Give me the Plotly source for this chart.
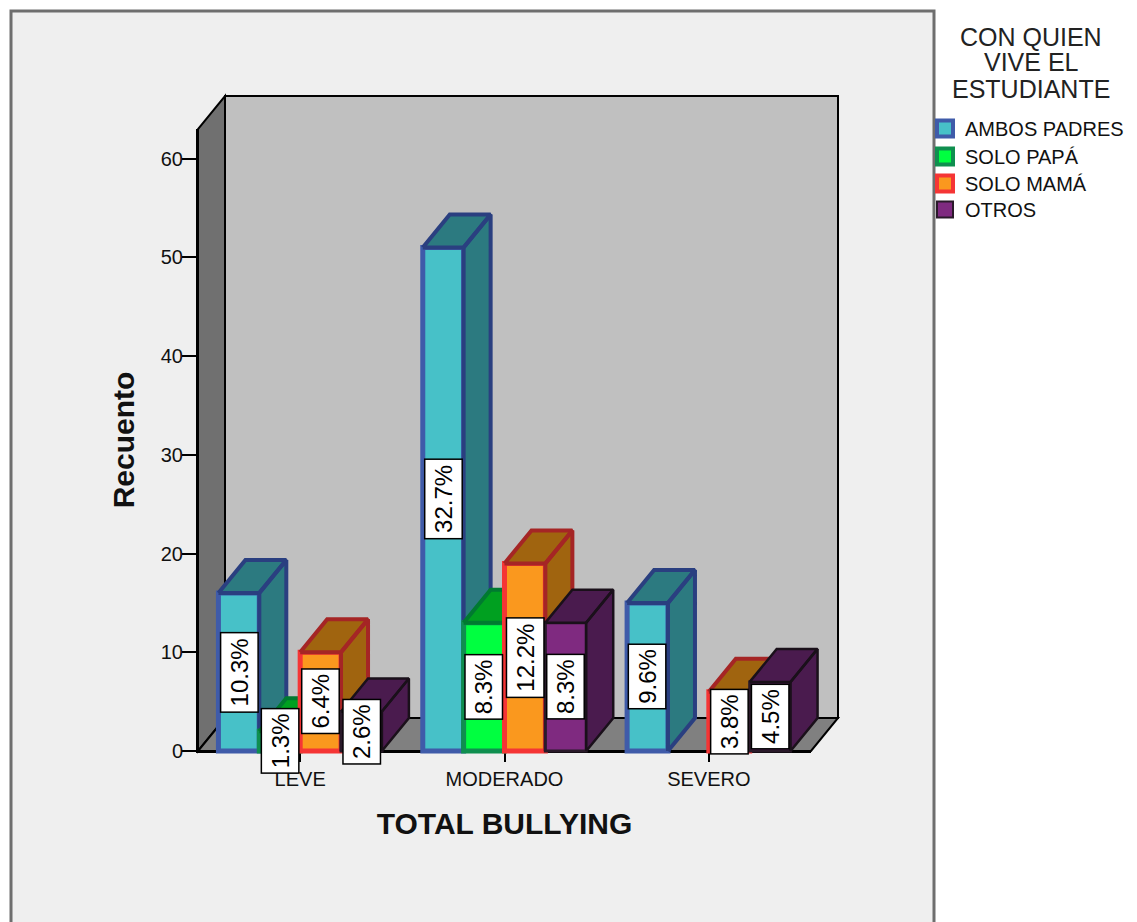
import plotly.graph_objects as go

CATEGORIES = ["LEVE", "MODERADO", "SEVERO"]
SERIES = ["AMBOS PADRES", "SOLO PAPÁ", "SOLO MAMÁ", "OTROS"]
AMBOS = [16, 51, 15]
PAPA = [2, 13, None]
MAMA = [10, 19, 6]
OTROS = [4, 13, 7]
VALUES = [AMBOS, PAPA, MAMA, OTROS]
PCT_AMBOS = ["10.3%", "32.7%", "9.6%"]
PCT_PAPA = ["1.3%", "8.3%", None]
PCT_MAMA = ["6.4%", "12.2%", "3.8%"]
PCT_OTROS = ["2.6%", "8.3%", "4.5%"]
PCTS = [PCT_AMBOS, PCT_PAPA, PCT_MAMA, PCT_OTROS]
Y_TICKS = [0, 10, 20, 30, 40, 50, 60]
LEGEND_TITLE = ["CON QUIEN", "VIVE EL", "ESTUDIANTE"]

FACE = ["#47C1C8", "#00FF40", "#FA981E", "#7F2A80"]
EDGE = ["#3F5BA9", "#0F8F4F", "#F53535", "#2A1A2A"]
DARK = ["#2C7A80", "#00A020", "#A0640F", "#4A1B4E"]
DARK_EDGE = ["#2A3F80", "#007A30", "#A52525", "#1A101A"]

W, H = 1137, 922
FONT = "Liberation Sans"
L, R, B, T = 198, 811, 751, 129
sx = (R - L) / 3
sy = (B - T) / 63
DX, DY = 27 / sx, 33 / sy
BAR_W = 0.2

XMIN, XMAX = -0.5, 2.5
ox0, ox1 = 193, 846
oy0, oy1 = 756, 90
ox_range = [XMIN + (ox0 - L) / sx, XMIN + (ox1 - L) / sx]
oy_range = [(B - oy0) / sy, (B - oy1) / sy]

fig = go.Figure()

legend_y = [109, 137, 164, 190]
layout_legends = {}
for s, name in enumerate(SERIES):
    key = "legend" if s == 0 else f"legend{s + 1}"
    fig.add_trace(go.Scatter(
        x=[None], y=[None], name=name, mode="markers", legend=key,
        marker=dict(symbol="square", size=16, color=FACE[s],
                    line=dict(color=EDGE[s], width=4 if s < 3 else 2)),
    ))
    layout_legends[key] = dict(x=925 / W, y=1 - legend_y[s] / H, xanchor="left", yanchor="top",
                               bgcolor="rgba(0,0,0,0)", font=dict(family=FONT, size=20, color="#111111"),
                               itemclick=False, itemdoubleclick=False)

layout_axes = {}
for s, name in enumerate(SERIES):
    n = s + 2
    xa, ya = f"x{n}", f"y{n}"
    offset = -0.4 + BAR_W * s
    fig.add_trace(go.Bar(
        x=[0, 1, 2], y=VALUES[s], width=BAR_W, offset=offset, xaxis=xa, yaxis=ya,
        name=name, showlegend=False,
        marker=dict(color=FACE[s], line=dict(color=EDGE[s], width=5 if s < 3 else 3)),
    ))
    px, py = [], []
    for i, v in enumerate(VALUES[s]):
        if v is None:
            continue
        l = i + offset
        r = l + BAR_W
        px += [l, r, r + DX, l + DX, l, None, r, r + DX, r + DX, r, r, None]
        py += [v, v, v + DY, v + DY, v, None, 0, DY, v + DY, v, 0, None]
    fig.add_trace(go.Scatter(
        x=px, y=py, xaxis=xa, yaxis=ya, mode="lines", fill="toself",
        fillcolor=DARK[s], line=dict(color=DARK_EDGE[s], width=4 if s < 3 else 2.5),
        showlegend=False, hoverinfo="skip",
    ))
    layout_axes[f"xaxis{n}"] = dict(domain=[ox0 / W, ox1 / W], range=ox_range, visible=False,
                                    anchor=ya, fixedrange=True, automargin=False)
    layout_axes[f"yaxis{n}"] = dict(domain=[1 - oy0 / H, 1 - oy1 / H], range=oy_range, visible=False,
                                    anchor=xa, fixedrange=True, automargin=False)

annotations = []
for s in range(4):
    for i, p in enumerate(PCTS[s]):
        if p is None:
            continue
        annotations.append(dict(
            x=i - 0.3 + BAR_W * s, y=VALUES[s][i] / 2, xref="x", yref="y",
            text=p, showarrow=False, textangle=-90,
            width=78 if len(p) == 5 else 63, height=36,
            bgcolor="white", bordercolor="black", borderwidth=1.5, borderpad=0,
            font=dict(family=FONT, size=24, color="black"),
        ))
for line, y_px in zip(LEGEND_TITLE, [37, 62, 89]):
    annotations.append(dict(
        x=1031 / W, y=1 - y_px / H, xref="paper", yref="paper", text=line, showarrow=False,
        xanchor="center", yanchor="middle", font=dict(family=FONT, size=25, color="#222222"),
    ))

wall = dict(xref="x2", yref="y2", layer="below", line=dict(color="black", width=2))
x_left, x_right = XMIN, XMAX
top = 63
shapes = [
    dict(type="rect", xref="paper", yref="paper", layer="below",
         x0=11 / W, x1=934 / W, y0=-0.02, y1=1 - 11 / H,
         fillcolor="#EFEFEF", line=dict(color="#6E6E6E", width=3)),
    dict(type="path", path=f"M{x_left},0 L{x_left + DX},{DY} L{x_left + DX},{top + DY} L{x_left},{top} Z",
         fillcolor="#707070", **wall),
    dict(type="rect", x0=x_left + DX, x1=x_right + DX, y0=DY, y1=top + DY, fillcolor="#C0C0C0", **wall),
    dict(type="path", path=f"M{x_left},0 L{x_right},0 L{x_right + DX},{DY} L{x_left + DX},{DY} Z",
         fillcolor="#808080", **wall),
]

fig.update_layout(
    width=W, height=H, margin=dict(l=0, r=0, t=0, b=0, pad=0, autoexpand=False),
    paper_bgcolor="white", plot_bgcolor="rgba(0,0,0,0)",
    font=dict(family=FONT, size=20, color="#111111"),
    showlegend=True,
    xaxis=dict(domain=[L / W, R / W], range=[XMIN, XMAX], tickvals=[0, 1, 2], ticktext=CATEGORIES,
               ticks="outside", ticklen=9, tickcolor="black", tickwidth=2, showgrid=False, zeroline=False,
               showline=True, linecolor="black", linewidth=2, fixedrange=True, automargin=False,
               tickfont=dict(family=FONT, size=20, color="#111111"),
               title=dict(text="<b>TOTAL BULLYING</b>", standoff=24,
                          font=dict(family=FONT, size=30, color="#111111"))),
    yaxis=dict(domain=[1 - B / H, 1 - T / H], range=[0, top], tickvals=Y_TICKS,
               ticks="outside", ticklen=14, tickcolor="black", tickwidth=2, showgrid=False, zeroline=False,
               showline=True, linecolor="black", linewidth=2, fixedrange=True, automargin=False,
               ticklabelstandoff=-5,
               tickfont=dict(family=FONT, size=20, color="#111111"),
               title=dict(text="<b>Recuento</b>", standoff=17,
                          font=dict(family=FONT, size=30, color="#111111"))),
    annotations=annotations, shapes=shapes,
    **layout_legends,
    **layout_axes,
)

fig.write_html("out.html", config={"displayModeBar": False},
               post_script="document.body.style.margin='0';")
